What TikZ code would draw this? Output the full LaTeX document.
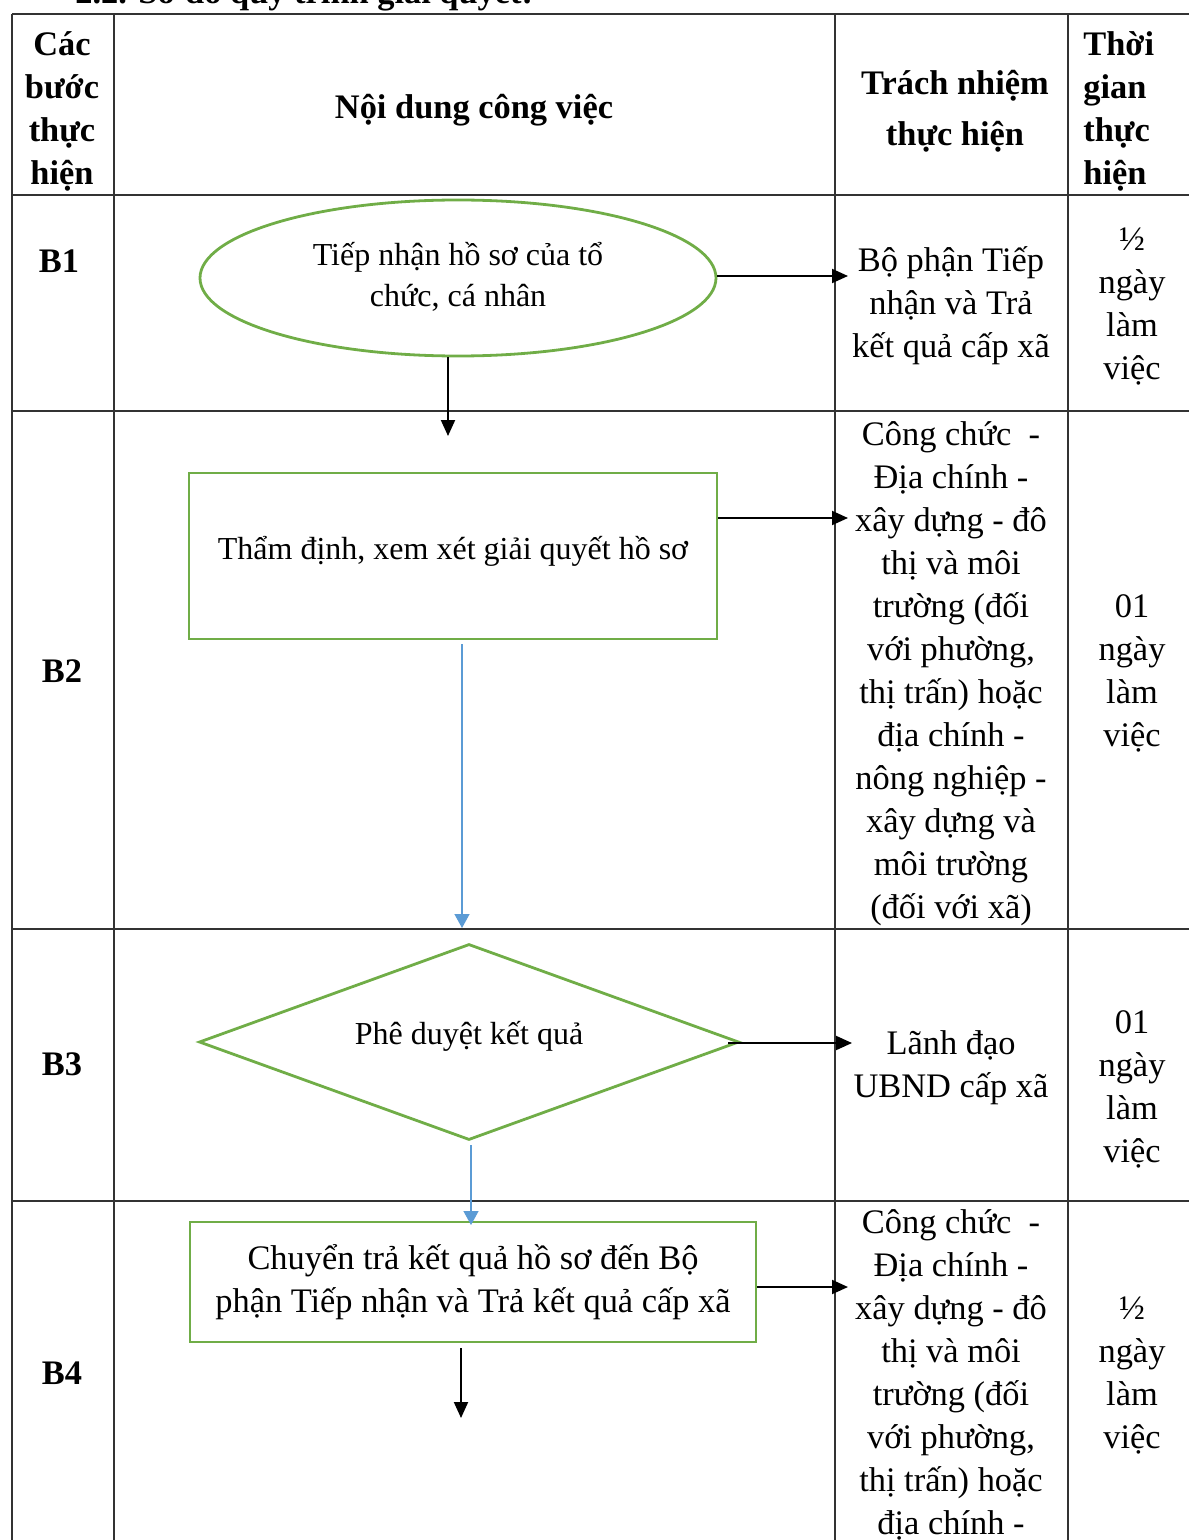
\documentclass[tikz,border=0pt]{standalone}
\usepackage{fontspec}
\setmainfont{Liberation Serif}
\usetikzlibrary{shapes.geometric,arrows.meta}

\definecolor{flowgreen}{RGB}{112,173,71}
\definecolor{flowblue}{RGB}{91,155,213}

%% column / row rulings of the table (in px units)
\def\cA{12}
\def\cB{114}
\def\cC{835}
\def\cD{1068}
\def\cE{1189}

\begin{document}
\begin{tikzpicture}[x=0.5pt,y=-0.5pt,
    grid/.style={draw=black!80, line width=0.8pt},
    cell/.style={font=\fontsize{17.2}{21.5}\selectfont, align=center, inner sep=0pt},
    head/.style={font=\bfseries\fontsize{17.2}{21.5}\selectfont, align=center, inner sep=0pt},
    flow/.style={draw=flowgreen, line width=1.4pt, font=\fontsize{16}{20.5}\selectfont, align=center, inner sep=0pt},
    arr/.style={-{Triangle[length=8pt,width=7pt]}, line width=1pt},
    barr/.style={-{Triangle[length=7pt,width=7.5pt]}, draw=flowblue, fill=flowblue, line width=0.7pt}]

    \useasboundingbox (0,0) rectangle (1189,1540);

    %% table
    \foreach \y in {14,195,411,929,1201}
        \draw[grid] (\cA,\y) -- (\cE,\y);
    \foreach \x in {\cA,\cB,\cC,\cD}
        \draw[grid] (\x,14) -- (\x,1540);

    \node[head, anchor=base west] (title) at (75,4) {2.2. Sơ đồ quy trình giải quyết:};

    %% header row
    \node[head] (H1) at (62,111)  {Các\\bước\\thực\\hiện};
    \node[head] (H2) at (474,110) {Nội dung công việc};
    \node[head] (H3) at (955,111) {Trách nhiệm\\[4pt]thực hiện};
    \node[head, align=left, anchor=west] (H4) at (1083,111) {Thời\\gian\\thực\\hiện};

    %% step labels
    \node[head] (S1) at (59,261)   {B1};
    \node[head] (S2) at (62,671)   {B2};
    \node[head] (S3) at (62,1064)  {B3};
    \node[head] (S4) at (62,1373)  {B4};

    %% flow shapes
    \node[flow, ellipse, minimum width=258pt, minimum height=78pt] (E1) at (458,278)
        {\raisebox{4pt}{\begin{tabular}{@{}c@{}}Tiếp nhận hồ sơ của tổ\\chức, cá nhân\end{tabular}}};
    \node[flow, rectangle, minimum width=264pt, minimum height=83pt] (B2box) at (453,556)
        {\raisebox{8pt}{Thẩm định, xem xét giải quyết hồ sơ}};
    \node[flow, diamond, aspect=2.76, minimum width=270pt, minimum height=98pt] (D3) at (469,1042)
        {\raisebox{9pt}{Phê duyệt kết quả}};
    \node[flow, rectangle, minimum width=283pt, minimum height=60pt, font=\fontsize{17.2}{21.5}\selectfont] (B4box) at (473,1282)
        {\raisebox{4pt}{\begin{tabular}{@{}c@{}}Chuyển trả kết quả hồ sơ đến Bộ\\phận Tiếp nhận và Trả kết quả cấp xã\end{tabular}}};

    %% responsibility column
    \node[cell] (R1) at (951,306) {Bộ phận Tiếp\\nhận và Trả\\kết quả cấp xã};
    \node[cell] (R2) at (951,674) {Công chức\ \ -\\Địa chính -\\xây dựng - đô\\thị và môi\\trường (đối\\với phường,\\thị trấn) hoặc\\địa chính -\\nông nghiệp -\\xây dựng và\\môi trường\\(đối với xã)};
    \node[cell] (R3) at (951,1068) {Lãnh đạo\\UBND cấp xã};
    \node[cell, anchor=north] (R4) at (951,1209) {Công chức\ \ -\\Địa chính -\\xây dựng - đô\\thị và môi\\trường (đối\\với phường,\\thị trấn) hoặc\\địa chính -};

    %% time column
    \node[cell] (P1) at (1132,307)  {½\\ngày\\làm\\việc};
    \node[cell] (P2) at (1132,673)  {01\\ngày\\làm\\việc};
    \node[cell] (P3) at (1132,1089) {01\\ngày\\làm\\việc};
    \node[cell] (P4) at (1132,1376) {½\\ngày\\làm\\việc};

    %% arrow ends
    \coordinate (T1)  at (848,276);
    \coordinate (T12) at (448,436);
    \coordinate (T2)  at (848,518);
    \coordinate (T23) at (462,928);
    \coordinate (T3)  at (852,1043);
    \coordinate (T34) at (471,1225);
    \coordinate (T4)  at (848,1287);
    \coordinate (T45) at (461,1418);

    \draw[arr]  (E1.east |- T1)       -- (T1);
    \draw[arr]  (E1.south -| T12)     -- (T12);
    \draw[arr]  (B2box.east |- T2)    -- (T2);
    \draw[barr] ([yshift=-2pt]B2box.south -| T23) -- (T23);
    \draw[arr]  ([xshift=-6pt]D3.east |- T3) -- (T3);
    \draw[barr] ([yshift=-2pt]D3.south -| T34) -- (T34);
    \draw[arr]  (B4box.east |- T4)    -- (T4);
    \draw[arr]  ([yshift=-2.5pt]B4box.south -| T45) -- (T45);

\end{tikzpicture}
\end{document}
